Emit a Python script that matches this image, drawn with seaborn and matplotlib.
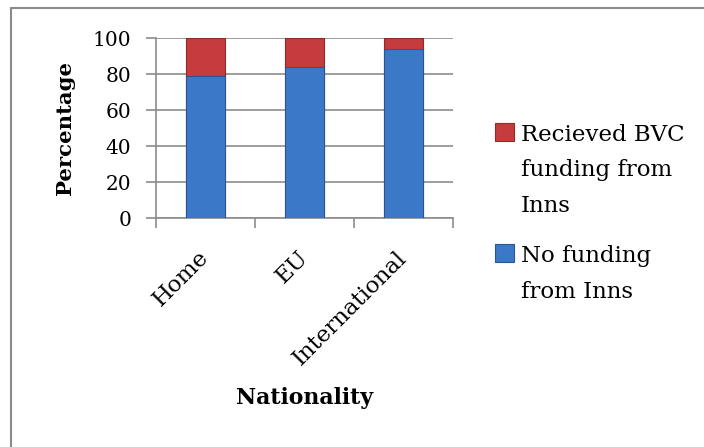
import numpy as np
import pandas as pd
import seaborn as sns
import matplotlib.pyplot as plt
import matplotlib.ticker as ticker
from matplotlib.patches import Rectangle
from matplotlib.lines import Line2D

nationalities = ["Home", "EU", "International"]
no_funding = [79, 84, 94]
received_bvc = [21, 16, 6]

legend_labels = [["Recieved BVC", "funding from", "Inns"],
                 ["No funding", "from Inns"]]

BLUE = "#3B78C6"
BLUE_EDGE = "#2A5590"
RED = "#C63B3C"
RED_EDGE = "#8E2A2A"
GRID = "#8C8C8C"

sns.set_theme(style="white")
plt.rcParams['font.family'] = ['DejaVu Serif']
plt.rcParams['text.color'] = 'black'
plt.rcParams['axes.labelcolor'] = 'black'
plt.rcParams['xtick.color'] = 'black'
plt.rcParams['ytick.color'] = 'black'

df = pd.DataFrame({'nationality': nationalities,
                   'none': no_funding,
                   'bvc': received_bvc})
df['total'] = df['none'] + df['bvc']

W, H = 704, 447
fig = plt.figure(figsize=(W / 100, H / 100), dpi=100)
ax = fig.add_axes([156 / W, 1 - 218.3 / H, 297 / W, 180 / H])

sns.barplot(data=df, x='nationality', y='total', color=RED, width=0.4,
            edgecolor=RED_EDGE, linewidth=0.8, saturation=1, ax=ax, zorder=3)
sns.barplot(data=df, x='nationality', y='none', color=BLUE, width=0.4,
            edgecolor=BLUE_EDGE, linewidth=0.8, saturation=1, ax=ax, zorder=4)

ax.set_xlim(-0.5, 2.5)
ax.set_ylim(0, 100)
ax.yaxis.set_major_locator(ticker.MultipleLocator(20))
ax.grid(axis='y', color=GRID, lw=1.2, zorder=0)
ax.set_axisbelow(True)

for side in ['top', 'right']:
    ax.spines[side].set_visible(False)
for side in ['left', 'bottom']:
    ax.spines[side].set_color(GRID)
    ax.spines[side].set_linewidth(1.2)

# category boundary ticks on x axis
ax.xaxis.set_minor_locator(ticker.FixedLocator([-0.5, 0.5, 1.5, 2.5]))
ax.tick_params(axis='x', which='major', length=0, pad=26)
ax.tick_params(axis='x', which='minor', length=7, width=1.2, color=GRID, direction='out', bottom=True)
ax.tick_params(axis='y', which='major', length=7, width=1.2, color=GRID, direction='out', left=True,
               pad=11, labelsize=14.5)

ax.set_xticks(range(len(nationalities)))
ax.set_xticklabels(nationalities, rotation=45, ha='right', va='center',
                   rotation_mode='anchor', fontsize=16.5)

ax.set_xlabel('Nationality', fontsize=15.8, fontweight='bold', va='center')
ax.set_ylabel('Percentage', fontsize=15.3, fontweight='bold', va='center')
ax.xaxis.set_label_coords(0.5, -(398 - 218.3) / 180)
ax.yaxis.set_label_coords((65 - 156) / 297, 0.5)

# legend, handle level with first text line
legend_colors = [(RED, RED_EDGE), (BLUE, BLUE_EDGE)]
first_base = [140.5, 262]
line_step = 35.8
for lines, (fc, ec), yb in zip(legend_labels, legend_colors, first_base):
    fig.patches.append(Rectangle((495 / W, 1 - yb / H), 19 / W, 18 / H,
                                 transform=fig.transFigure, facecolor=fc, edgecolor=ec, lw=0.8))
    for i, line in enumerate(lines):
        fig.text(521 / W, 1 - (yb + i * line_step) / H, line, fontsize=16.5,
                 ha='left', va='baseline')

# chart frame: only left and top edges visible (cropped)
fig.add_artist(Line2D([11 / W, 11 / W], [0, 1 - 7.5 / H], transform=fig.transFigure,
                      color='#8A8A8A', lw=1.5))
fig.add_artist(Line2D([11 / W, 1], [1 - 7.5 / H, 1 - 7.5 / H], transform=fig.transFigure,
                      color='#8A8A8A', lw=1.5))

fig.savefig('out.png', dpi=100, facecolor='white')
